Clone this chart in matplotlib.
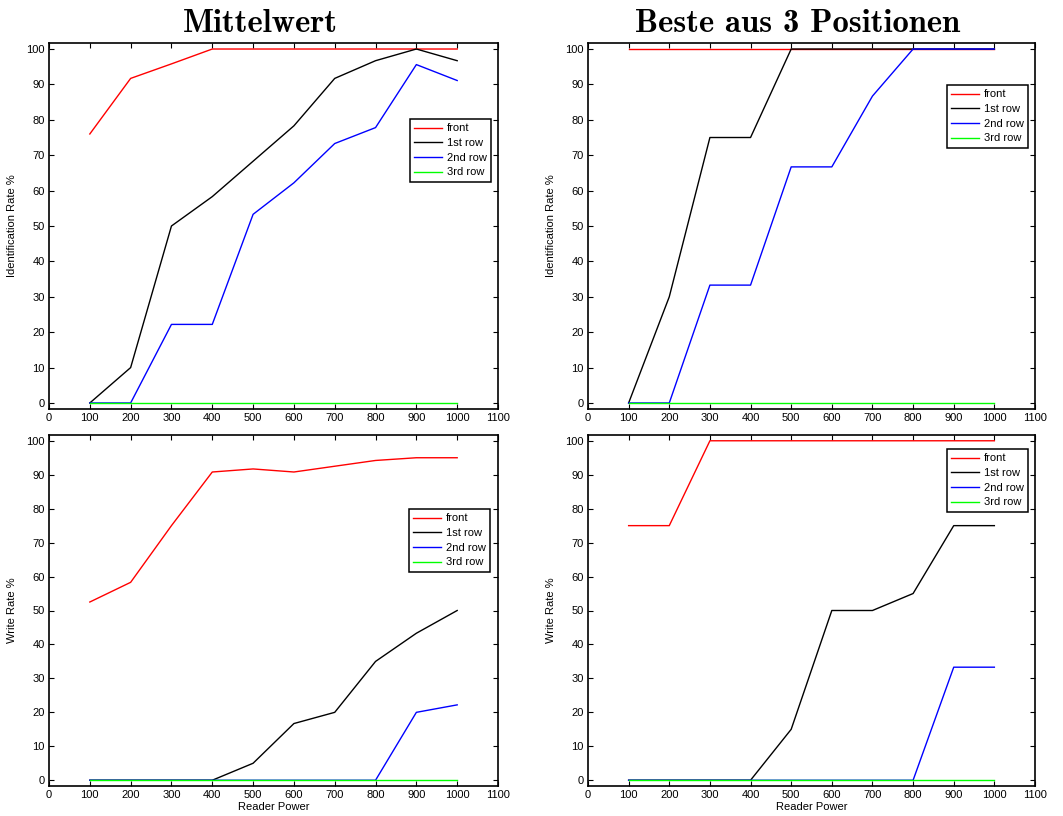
import matplotlib
matplotlib.use("Agg")
import matplotlib.pyplot as plt
import matplotlib.transforms as mtransforms

x = [100, 200, 300, 400, 500, 600, 700, 800, 900, 1000]
labels = ["front", "1st row", "2nd row", "3rd row"]
colors = ["#ff0000", "#000000", "#0000ff", "#00ff00"]

# Identification rate, mean
id_mean_front = [76.0, 91.7, 95.8, 100, 100, 100, 100, 100, 100, 100]
id_mean_row1 = [0, 10.0, 50.0, 58.3, 68.3, 78.3, 91.7, 96.7, 100, 96.7]
id_mean_row2 = [0, 0, 22.2, 22.2, 53.3, 62.2, 73.3, 77.8, 95.6, 91.1]
id_mean_row3 = [0, 0, 0, 0, 0, 0, 0, 0, 0, 0]

# Identification rate, best of 3 positions
id_best_front = [100, 100, 100, 100, 100, 100, 100, 100, 100, 100]
id_best_row1 = [0, 30.0, 75.0, 75.0, 100, 100, 100, 100, 100, 100]
id_best_row2 = [0, 0, 33.3, 33.3, 66.7, 66.7, 86.7, 100, 100, 100]
id_best_row3 = [0, 0, 0, 0, 0, 0, 0, 0, 0, 0]

# Write rate, mean
wr_mean_front = [52.5, 58.3, 75.0, 90.8, 91.7, 90.8, 92.5, 94.2, 95.0, 95.0]
wr_mean_row1 = [0, 0, 0, 0, 5.0, 16.7, 20.0, 35.0, 43.3, 50.0]
wr_mean_row2 = [0, 0, 0, 0, 0, 0, 0, 0, 20.0, 22.2]
wr_mean_row3 = [0, 0, 0, 0, 0, 0, 0, 0, 0, 0]

# Write rate, best of 3 positions
wr_best_front = [75.0, 75.0, 100, 100, 100, 100, 100, 100, 100, 100]
wr_best_row1 = [0, 0, 0, 0, 15.0, 50.0, 50.0, 55.0, 75.0, 75.0]
wr_best_row2 = [0, 0, 0, 0, 0, 0, 0, 0, 33.3, 33.3]
wr_best_row3 = [0, 0, 0, 0, 0, 0, 0, 0, 0, 0]

titles = ["Mittelwert", "Beste aus 3 Positionen"]
ylabels = ["Identification Rate %", "Write Rate %"]
xlabel = "Reader Power"
xticks = [0, 100, 200, 300, 400, 500, 600, 700, 800, 900, 1000, 1100]
yticks = [0, 10, 20, 30, 40, 50, 60, 70, 80, 90, 100]

W, H = 1063, 816
fig = plt.figure(figsize=(W / 100, H / 100), dpi=100)
plt.rcParams['font.family'] = ['Liberation Sans', 'DejaVu Sans']

def fx(px):
    return px / W

def fy(py):
    return 1 - py / H

# axes pixel boxes: (left, top, right, bottom)
boxes = [
    (49, 43, 498, 409),
    (588, 43, 1035, 409),
    (49, 435, 498, 786),
    (588, 435, 1035, 786),
]
legend_tl = [(410, 119), (947, 85), (409, 509), (947, 449)]
ylabel_x = [17, 556, 17, 556]

data = [
    [id_mean_front, id_mean_row1, id_mean_row2, id_mean_row3],
    [id_best_front, id_best_row1, id_best_row2, id_best_row3],
    [wr_mean_front, wr_mean_row1, wr_mean_row2, wr_mean_row3],
    [wr_best_front, wr_best_row1, wr_best_row2, wr_best_row3],
]

FS = 8

for i, (l, t, r, b) in enumerate(boxes):
    ax = fig.add_axes([fx(l), fy(b), fx(r) - fx(l), fy(t) - fy(b)])
    for series, lab, c in zip(data[i], labels, colors):
        ax.plot(x, series, color=c, lw=1.0, label=lab)
    ax.set_xlim(0, 1100)
    ax.set_ylim(-1.7, 101.7)
    ax.set_xticks(xticks)
    ax.set_yticks(yticks)
    ax.tick_params(direction='in', top=True, right=True, length=3.5,
                   width=0.8, labelsize=FS, pad=3)
    for sp in ax.spines.values():
        sp.set_linewidth(1.2)
    ax.set_ylabel(ylabels[i // 2], fontsize=FS)
    trans = mtransforms.blended_transform_factory(fig.transFigure, ax.transAxes)
    ax.yaxis.set_label_coords(fx(ylabel_x[i]), 0.5, transform=trans)
    if i >= 2:
        ax.set_xlabel(xlabel, fontsize=FS, labelpad=1)
    lx, ly = legend_tl[i]
    leg = ax.legend(loc='upper left', bbox_to_anchor=(fx(lx), fy(ly)),
                    bbox_transform=fig.transFigure, fontsize=FS,
                    fancybox=False, edgecolor='black', framealpha=1,
                    handlelength=2.5, borderpad=0.4, labelspacing=0.42,
                    handletextpad=0.4, borderaxespad=0)
    leg.get_frame().set_linewidth(1.1)

fig.text(fx(260), fy(32), titles[0], ha='center', va='baseline',
         fontsize=23.5, family=['cmb10', 'DejaVu Serif'])
fig.text(fx(798), fy(32), titles[1], ha='center', va='baseline',
         fontsize=23.5, family=['cmb10', 'DejaVu Serif'])

fig.savefig("out.png", dpi=100)
